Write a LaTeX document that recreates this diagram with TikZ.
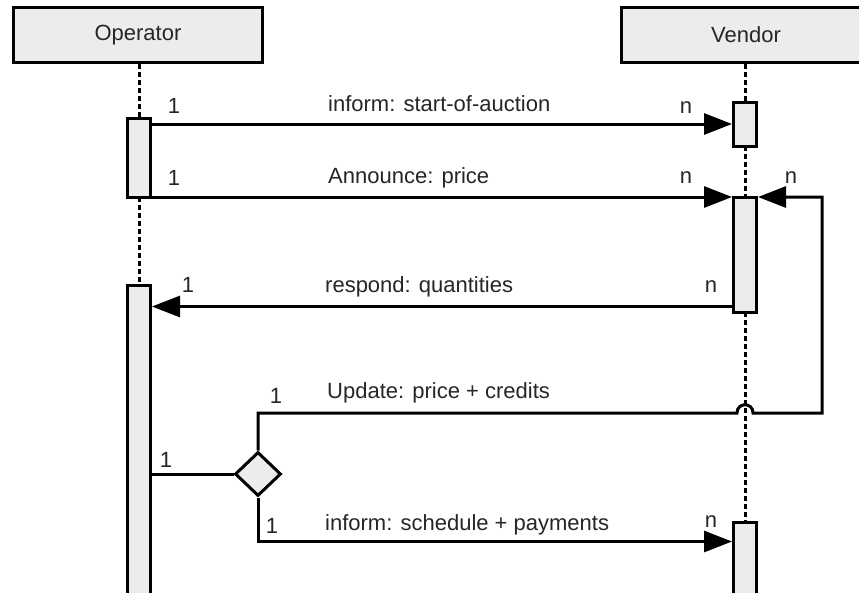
\documentclass[tikz,border=0pt]{standalone}
\usepackage{fontspec}
\setmainfont{Liberation Sans}
\usetikzlibrary{arrows.meta,shapes.geometric,calc}
\definecolor{boxgray}{RGB}{236,236,236}
\begin{document}
\begin{tikzpicture}[x=1pt,y=-1pt,
  every node/.style={text=black!85, font=\fontsize{22}{26}\selectfont},
  actor/.style={draw, fill=boxgray, line width=3pt, minimum width=249pt, minimum height=55pt, inner sep=0},
  bar/.style={draw, fill=boxgray, line width=3pt, minimum width=23pt, inner sep=0},
  life/.style={line width=3pt, dash pattern=on 5pt off 3pt},
  msg/.style={line width=3pt, -{Triangle[length=28pt,width=21pt]}},
  conn/.style={line width=3pt},
  lbl/.style={anchor=base west, inner sep=0},
  mult/.style={anchor=base, inner sep=0}]
\fill[white] (0,0) rectangle (859,592);
\useasboundingbox (0,0) rectangle (859,592);

% actors
\node[actor] (op) at (138,35) {Operator};
\node[actor] (ve) at (746,35) {Vendor};

% activation bar positions
\coordinate (ob1c) at (139,157.5);
\coordinate (ob2c) at (139,462.5);
\coordinate (vb1c) at (745,124);
\coordinate (vb2c) at (745,254.5);
\coordinate (vb3c) at (745,581);

% lifelines
\draw[life] (ob1c |- op.south) -- (139,118);
\draw[life] (139,197) -- (139,285);
\draw[life] (vb1c |- ve.south) -- (745,102);
\draw[life] (745,146) -- (745,197);
\draw[life] (745,312) -- (745,522);

% activation bars
\node[bar, minimum height=79pt] (ob1) at (ob1c) {};
\node[bar, minimum height=355pt] (ob2) at (ob2c) {};
\node[bar, minimum height=44pt] (vb1) at (vb1c) {};
\node[bar, minimum height=115pt] (vb2) at (vb2c) {};
\node[bar, minimum height=118pt] (vb3) at (vb3c) {};

% decision
\node[diamond, draw, fill=boxgray, line width=3pt, minimum width=46pt, minimum height=44pt, inner sep=0] (dm) at (258,474) {};

% messages
\draw[msg] (ob1.east |- vb1.west) -- (vb1.west);
\coordinate (a2) at ($(ob1.south east)+(0,-1.5)$);
\draw[msg] (a2) -- (a2 -| vb2.west);
\coordinate (r1) at ($(vb2.south west)+(0,-7)$);
\draw[msg] (r1) -- (r1 -| ob2.east);
\draw[conn] (ob2.east |- dm.west) -- (dm.west);
\coordinate (up) at (dm.north |- 0,413);
\coordinate (jl) at ($(up -| vb2.south)+(-8,0)$);
\coordinate (jr) at ($(up -| vb2.south)+(8,0)$);
\draw[msg] (dm.north) -- (up) -- (jl) .. controls ($(jl)+(0,-11)$) and ($(jr)+(0,-11)$) .. (jr) -- (822,413) |- (a2 -| vb2.east);
\draw[msg] (dm.south) |- ($(vb3.north west)+(0,21)$);

% labels
\node[lbl] (t1) at (328,111) {inform: start-of-auction};
\node[lbl] (t2) at (328,183) {Announce: price};
\node[lbl] (t3) at (325,292) {respond: quantities};
\node[lbl] (t4) at (327,398) {Update: price + credits};
\node[lbl] (t5) at (325,530) {inform: schedule + payments};

% multiplicities
\node[mult] (m1) at (174,113) {1};
\node[mult] (m2) at (174,185) {1};
\node[mult] (m3) at (188,292) {1};
\node[mult] (m4) at (276,403) {1};
\node[mult] (m5) at (166,467) {1};
\node[mult] (m6) at (272,533) {1};
\node[mult] (n1) at (686,113) {n};
\node[mult] (n2) at (686,183) {n};
\node[mult] (n3) at (791,183) {n};
\node[mult] (n4) at (711,292) {n};
\node[mult] (n5) at (711,527) {n};
\end{tikzpicture}
\end{document}
